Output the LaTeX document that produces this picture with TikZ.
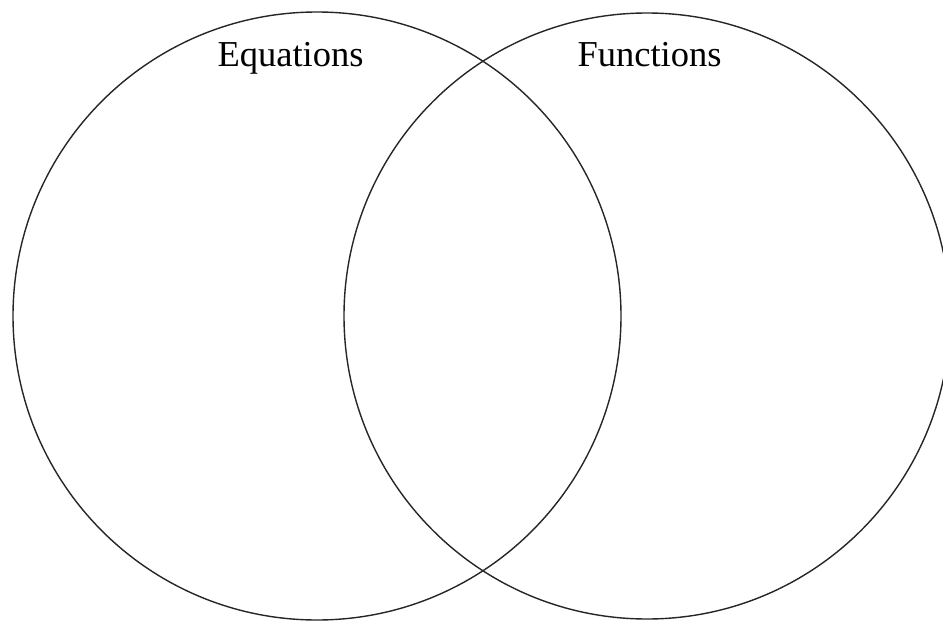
\documentclass[tikz,border=0pt]{standalone}
\usepackage{fontspec}
\setmainfont{Liberation Serif}
\begin{document}
\begin{tikzpicture}[x=1pt,y=-1pt,
  setcircle/.style={draw=black!85, line width=1.4pt},
  setlabel/.style={anchor=base, inner sep=0pt, font=\fontsize{36.5}{40}\selectfont}]
\useasboundingbox (0,0) rectangle (943,621);
\clip (0,0) rectangle (943,621);
\fill[white] (0,0) rectangle (943,621);
\node[setcircle, circle, minimum size=608pt, inner sep=0pt] (eq) at (317,316) {};
\node[setcircle, circle, minimum size=606pt, inner sep=0pt] (fn) at (647,316) {};
\node[setlabel] (eqlabel) at (290.5,66) {Equations};
\node[setlabel] (fnlabel) at (649.5,66) {Functions};
\end{tikzpicture}
\end{document}
